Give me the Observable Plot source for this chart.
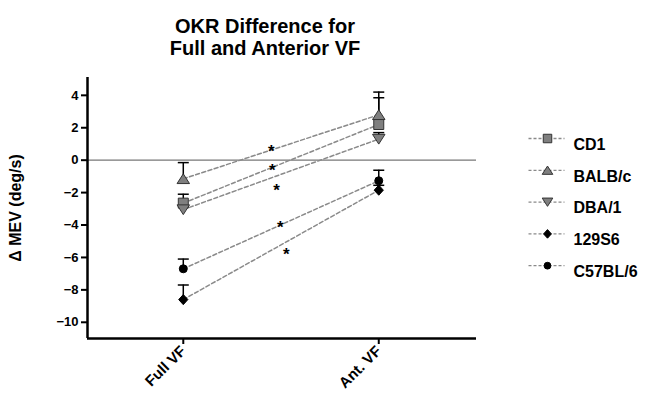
<!DOCTYPE html>
<html><head><meta charset="utf-8">
<script src="https://cdn.jsdelivr.net/npm/d3@7"></script>
<script src="https://cdn.jsdelivr.net/npm/@observablehq/plot@0.6"></script>
<style>body{margin:0;background:#fff;} #chart{width:647px;height:407px;}</style>
</head><body><div id="chart"></div>
<script>
const conditions = ["Full VF", "Ant. VF"];
const strains = ["CD1", "BALB/c", "DBA/1", "129S6", "C57BL/6"];
const fullMean = [-2.65, -1.15, -3.05, -8.6, -6.7];
const fullSem  = [0.55, 1.0, 0.25, 0.9, 0.6];
const antMean  = [2.2, 2.8, 1.3, -1.85, -1.27];
const antSem   = [1.65, 1.4, 0.4, 0.3, 0.65];
const starX = [0.45, 0.455, 0.477, 0.497, 0.527];
const starY = [0.74, -0.41, -1.64, -3.93, -5.6];
const yTicks = [4, 2, 0, -2, -4, -6, -8, -10];
const xDomain = [-0.49, 1.5];
const yDomain = [-11, 5.1];

const rad = size => Math.sqrt(size / Math.PI);
const triUp = {draw(ctx, size) {
  const r = rad(size);
  ctx.moveTo(0, -r); ctx.lineTo(1.25 * r, 0.95 * r); ctx.lineTo(-1.25 * r, 0.95 * r); ctx.closePath();
}};
const triDown = {draw(ctx, size) {
  const r = rad(size);
  ctx.moveTo(0, r); ctx.lineTo(1.25 * r, -0.95 * r); ctx.lineTo(-1.25 * r, -0.95 * r); ctx.closePath();
}};
const square = {draw(ctx, size) {
  const r = rad(size);
  ctx.rect(-r, -r, 2 * r, 2 * r);
}};
const diamond = {draw(ctx, size) {
  const r = rad(size);
  ctx.moveTo(0, -1.1 * r); ctx.lineTo(r, 0); ctx.lineTo(0, 1.1 * r); ctx.lineTo(-r, 0); ctx.closePath();
}};
const cap = {draw(ctx) { ctx.moveTo(-5.5, 0); ctx.lineTo(5.5, 0); }};
const legLine = {draw(ctx) { ctx.moveTo(-19, 0); ctx.lineTo(17, 0); }};

const styles = {
  "CD1":     {symbol: square,   fill: "#7f7f7f", stroke: "#333", r: 5},
  "BALB/c":  {symbol: triUp,    fill: "#7f7f7f", stroke: "#333", r: 5},
  "DBA/1":   {symbol: triDown,  fill: "#7f7f7f", stroke: "#333", r: 5},
  "129S6":   {symbol: diamond,  fill: "#000",    stroke: "#000", r: 4.6},
  "C57BL/6": {symbol: "circle", fill: "#000",    stroke: "#000", r: 4}
};

const rows = [];
strains.forEach((s, i) => {
  rows.push({strain: s, x: 0, mean: fullMean[i], sem: fullSem[i]});
  rows.push({strain: s, x: 1, mean: antMean[i], sem: antSem[i]});
});
const stars = starX.map((x, i) => ({x, y: starY[i]}));

const marks = [
  Plot.ruleY([0], {stroke: "#777", strokeWidth: 1.2}),
  Plot.line(rows, {x: "x", y: "mean", z: "strain", stroke: "#8a8a8a", strokeWidth: 1.5, strokeDasharray: "4,2.5"}),
  Plot.ruleX(rows, {x: "x", y1: "mean", y2: d => d.mean + d.sem, stroke: "#000", strokeWidth: 1.5}),
  Plot.dot(rows, {x: "x", y: d => d.mean + d.sem, symbol: cap, r: 5, stroke: "#000", strokeWidth: 1.5, fill: "none"}),
];
strains.forEach(s => {
  const st = styles[s];
  marks.push(Plot.dot(rows.filter(d => d.strain === s), {x: "x", y: "mean", symbol: st.symbol, r: st.r, fill: st.fill, stroke: st.stroke, strokeWidth: 1}));
});
marks.push(Plot.text(stars, {x: "x", y: "y", text: () => "*", fontSize: 17, fontWeight: "bold", fill: "#000", dy: 3.5}));
marks.push(
  Plot.ruleX([xDomain[0]], {stroke: "#000", strokeWidth: 2.5}),
  Plot.ruleY([yDomain[0]], {stroke: "#000", strokeWidth: 2.5}),
  Plot.axisY({ticks: yTicks, tickSize: 6, tickPadding: 3, strokeWidth: 2, fontSize: 13, fontWeight: "bold", label: null}),
  Plot.axisX({ticks: [0, 1], tickFormat: i => conditions[i], tickRotate: -45, tickSize: 6, tickPadding: 4, strokeWidth: 2, fontSize: 15, fontWeight: "bold", label: null}),
  Plot.text(["OKR Difference for"], {text: d => d, frameAnchor: "top", dx: -17, dy: -59, fontSize: 20, fontWeight: "bold"}),
  Plot.text(["Full and Anterior VF"], {text: d => d, frameAnchor: "top", dx: -17, dy: -37, fontSize: 20, fontWeight: "bold"}),
  Plot.text(["Δ MEV (deg/s)"], {text: d => d, frameAnchor: "left", textAnchor: "middle", lineAnchor: "middle", dx: -72, rotate: -90, fontSize: 16, fontWeight: "bold"})
);
strains.forEach((s, i) => {
  const st = styles[s];
  const dy = 61 + 31.8 * i;
  marks.push(
    Plot.dot([0], {frameAnchor: "top-right", dx: 71, dy, symbol: legLine, r: 5, stroke: "#8a8a8a", strokeWidth: 1.3, strokeDasharray: "3,2", fill: "none"}),
    Plot.dot([0], {frameAnchor: "top-right", dx: 71, dy, symbol: st.symbol, r: st.r * 0.85, fill: st.fill, stroke: st.stroke, strokeWidth: 1}),
    Plot.text([s], {text: d => d, frameAnchor: "top-right", dx: 97, dy, textAnchor: "start", fontSize: 16, fontWeight: "bold"})
  );
});

const chart = Plot.plot({
  width: 647, height: 407,
  marginLeft: 87, marginRight: 171, marginTop: 77, marginBottom: 69,
  x: {domain: xDomain},
  y: {domain: yDomain},
  style: {fontFamily: "'Liberation Sans', Arial, sans-serif", color: "#000", background: "#fff", overflow: "visible"},
  marks
});
document.getElementById("chart").appendChild(chart);
</script></body></html>
